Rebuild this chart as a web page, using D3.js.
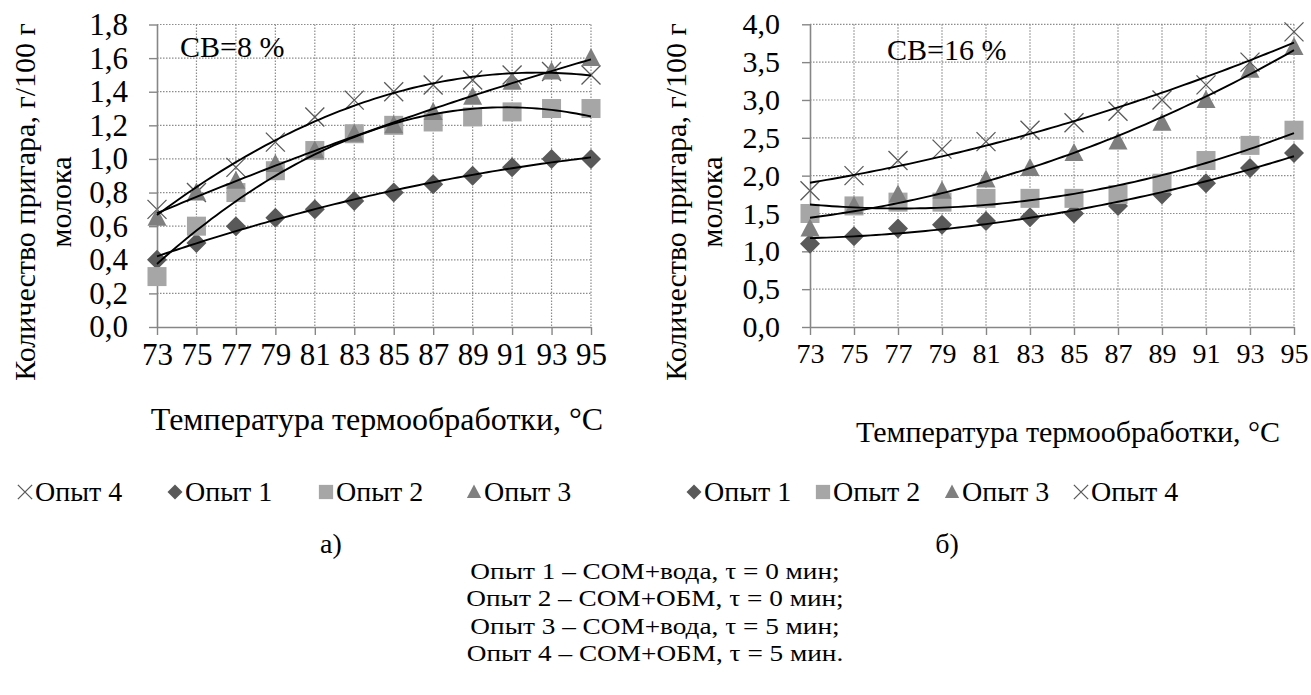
<!DOCTYPE html>
<html>
<head>
<meta charset="utf-8">
<script src="https://cdnjs.cloudflare.com/ajax/libs/d3/7.8.5/d3.min.js"></script>
<style>
  body { margin: 0; background: #fff; }
  svg { display: block; }
  svg text { font-family: "Liberation Serif", "Times New Roman", serif !important; fill: #000; }
</style>
</head>
<body>
<div id="chart"></div>
<script>
// temperatures (x categories)
const temps = [73, 75, 77, 79, 81, 83, 85, 87, 89, 91, 93, 95];
const seriesNames = ['Опыт 1', 'Опыт 2', 'Опыт 3', 'Опыт 4'];

// panel a) CB = 8 %
const a1 = [0.4, 0.5, 0.6, 0.65, 0.7, 0.75, 0.8, 0.85, 0.9, 0.95, 1.0, 1.0];
const a2 = [0.3, 0.6, 0.8, 0.93, 1.05, 1.15, 1.2, 1.22, 1.25, 1.28, 1.3, 1.3];
const a3 = [0.65, 0.8, 0.87, 0.97, 1.05, 1.15, 1.2, 1.28, 1.37, 1.46, 1.52, 1.6];
const a4 = [0.7, 0.8, 0.95, 1.1, 1.25, 1.35, 1.4, 1.44, 1.47, 1.5, 1.52, 1.5];

// panel б) CB = 16 %
const b1 = [1.1, 1.2, 1.3, 1.35, 1.4, 1.45, 1.5, 1.6, 1.75, 1.9, 2.1, 2.3];
const b2 = [1.5, 1.6, 1.65, 1.65, 1.7, 1.7, 1.7, 1.75, 1.9, 2.2, 2.4, 2.6];
const b3 = [1.3, 1.6, 1.75, 1.8, 1.95, 2.1, 2.3, 2.45, 2.7, 3.0, 3.4, 3.7];
const b4 = [1.8, 2.0, 2.2, 2.35, 2.45, 2.6, 2.7, 2.85, 3.0, 3.2, 3.5, 3.9];

const yTicksA = [0, 0.2, 0.4, 0.6, 0.8, 1.0, 1.2, 1.4, 1.6, 1.8];
const yTicksB = [0, 0.5, 1.0, 1.5, 2.0, 2.5, 3.0, 3.5, 4.0];

const notes = [
  'Опыт 1 – СОМ+вода, τ = 0 мин;',
  'Опыт 2 – СОМ+ОБМ, τ = 0 мин;',
  'Опыт 3 – СОМ+вода, τ = 5 мин;',
  'Опыт 4 – СОМ+ОБМ, τ = 5 мин.'
];

const FONT = '"Liberation Serif", "Times New Roman", serif';
const W = 1311, H = 695;
const svg = d3.select('#chart').append('svg')
  .attr('width', W).attr('height', H)
  .attr('font-family', FONT);

const comma = d => d3.format('.1f')(d).replace('.', ',');

// marker shapes, by series index
const markerColor = ['#595959', '#a6a6a6', '#7f7f7f', '#595959'];
function drawMarker(g, k, s) {
  if (k === 0) {
    g.append('path').attr('d', `M0,${-s}L${s},0L0,${s}L${-s},0Z`).attr('fill', markerColor[0]);
  } else if (k === 1) {
    const h = s * 0.95;
    g.append('rect').attr('x', -h).attr('y', -h).attr('width', 2 * h).attr('height', 2 * h).attr('fill', markerColor[1]);
  } else if (k === 2) {
    g.append('path').attr('d', `M0,${-s}L${s * 0.95},${s * 0.8}L${-s * 0.95},${s * 0.8}Z`).attr('fill', markerColor[2]);
  } else {
    const h = s * 0.95;
    g.append('path').attr('d', `M${-h},${-h}L${h},${h}M${-h},${h}L${h},${-h}`)
      .attr('stroke', markerColor[3]).attr('stroke-width', 1.3).attr('fill', 'none');
  }
}

// least squares polynomial (order 2) trend line, as Excel does
function polyFit(xs, ys) {
  const n = xs.length, xm = d3.mean(xs);
  const t = xs.map(x => x - xm);
  const S = p => d3.sum(t, v => Math.pow(v, p));
  const T = p => d3.sum(t, (v, i) => Math.pow(v, p) * ys[i]);
  const A = [[n, S(1), S(2)], [S(1), S(2), S(3)], [S(2), S(3), S(4)]];
  const B = [T(0), T(1), T(2)];
  for (let i = 0; i < 3; i++) {
    for (let j = i + 1; j < 3; j++) {
      const f = A[j][i] / A[i][i];
      for (let k = i; k < 3; k++) A[j][k] -= f * A[i][k];
      B[j] -= f * B[i];
    }
  }
  const c = [0, 0, 0];
  for (let i = 2; i >= 0; i--) {
    let s = B[i];
    for (let k = i + 1; k < 3; k++) s -= A[i][k] * c[k];
    c[i] = s / A[i][i];
  }
  return x => c[0] + c[1] * (x - xm) + c[2] * (x - xm) * (x - xm);
}

function panel(opt) {
  const x = d3.scaleLinear().domain([temps[0], temps[temps.length - 1]]).range([opt.left, opt.right]);
  const y = d3.scaleLinear().domain([0, opt.ymax]).range([opt.bottom, opt.top]);
  const g = svg.append('g');

  // grid
  g.append('g').selectAll('line').data(opt.yTicks.slice(1)).enter().append('line')
    .attr('x1', opt.left).attr('x2', opt.right)
    .attr('y1', d => y(d)).attr('y2', d => y(d))
    .attr('stroke', '#8c8c8c').attr('stroke-width', 1.2).attr('stroke-dasharray', '1.5,1.5');
  g.append('g').selectAll('line').data(temps.slice(1)).enter().append('line')
    .attr('x1', d => x(d)).attr('x2', d => x(d))
    .attr('y1', opt.top).attr('y2', opt.bottom)
    .attr('stroke', '#8c8c8c').attr('stroke-width', 1.2).attr('stroke-dasharray', '1.5,1.5');

  // axes
  const ya = g.append('g').attr('transform', `translate(${opt.left},0)`)
    .call(d3.axisLeft(y).tickValues(opt.yTicks).tickFormat(comma).tickSize(8).tickSizeOuter(0).tickPadding(opt.yPad));
  const xa = g.append('g').attr('transform', `translate(0,${opt.bottom})`)
    .call(d3.axisBottom(x).tickValues(temps).tickFormat(d3.format('d')).tickSize(8).tickSizeOuter(0).tickPadding(opt.xPad));
  ya.attr('font-family', FONT).attr('font-size', opt.yFont);
  xa.attr('font-family', FONT).attr('font-size', opt.xFont);
  [ya, xa].forEach(a => {
    a.selectAll('text').attr('fill', '#000').style('font-family', FONT);
    a.select('.domain').attr('stroke', '#868686').attr('stroke-width', 1.6);
    a.selectAll('.tick line').attr('stroke', '#868686').attr('stroke-width', 1.4);
  });

  // markers
  opt.order.forEach(k => {
    const vals = opt.series[k];
    temps.forEach((t, i) => {
      const m = g.append('g').attr('transform', `translate(${x(t)},${y(vals[i])})`);
      drawMarker(m, k, 10);
    });
  });

  // trend lines
  const line = d3.line().x(d => x(d[0])).y(d => y(d[1]));
  opt.series.forEach(vals => {
    const f = polyFit(temps, vals);
    const pts = d3.range(temps[0], temps[temps.length - 1] + 0.01, 0.25).map(t => [t, f(t)]);
    g.append('path').datum(pts).attr('d', line)
      .attr('fill', 'none').attr('stroke', '#000').attr('stroke-width', 1.9);
  });

  // СВ label
  g.append('text').attr('x', opt.cbX).attr('y', opt.cbY)
    .style('font-family', FONT).style('font-size', '30px').text(opt.cb);

  // y title (two lines)
  const yt = g.append('text').attr('transform', `translate(${opt.ytX},${opt.ytY}) rotate(-90)`)
    .attr('text-anchor', 'middle').style('font-family', FONT).style('font-size', '30px');
  yt.append('tspan').attr('x', 0).attr('y', 0).text('Количество пригара, г/100 г');
  yt.append('tspan').attr('x', 0).attr('y', 36).text('молока');

  // x title
  g.append('text').attr('x', opt.xtX).attr('y', opt.xtY).attr('text-anchor', 'middle')
    .style('font-family', FONT).style('font-size', opt.xtFont + 'px').text('Температура термообработки, °C');

  // legend
  const lg = g.append('g');
  opt.legend.forEach((k, i) => {
    const it = lg.append('g').attr('transform', `translate(${opt.legX[i]},${opt.legY})`);
    drawMarker(it.append('g').attr('transform', 'translate(8,0)'), k, 7.5);
    it.append('text').attr('x', 18).attr('y', 9)
      .style('font-family', FONT).style('font-size', '28px').text(seriesNames[k]);
  });

  svg.append('text').attr('x', opt.capX).attr('y', 553).attr('text-anchor', 'middle')
    .style('font-family', FONT).style('font-size', '28px').text(opt.cap);
}

panel({
  series: [a1, a2, a3, a4], order: [3, 0, 1, 2], legend: [3, 0, 1, 2],
  left: 157, right: 591, top: 24.5, bottom: 327, ymax: 1.8, yTicks: yTicksA,
  yPad: 21, yFont: 31, xPad: 8, xFont: 31,
  cb: 'СВ=8 %', cbX: 180, cbY: 57,
  ytX: 35, ytY: 202, xtX: 377, xtY: 430, xtFont: 32,
  legX: [17, 167, 318, 466], legY: 492, cap: 'а)', capX: 331
});

panel({
  series: [b1, b2, b3, b4], order: [0, 1, 2, 3], legend: [0, 1, 2, 3],
  left: 810, right: 1294, top: 24.3, bottom: 327, ymax: 4.0, yTicks: yTicksB,
  yPad: 22, yFont: 30, xPad: 8, xFont: 28,
  cb: 'СВ=16 %', cbX: 887, cbY: 60,
  ytX: 686, ytY: 202, xtX: 1068, xtY: 442, xtFont: 30,
  legX: [686, 815, 944, 1073], legY: 492, cap: 'б)', capX: 947
});

// explanatory notes: tight line spacing, glyphs widened a little like the source
svg.append('g').selectAll('text').data(notes).enter().append('text')
  .attr('x', 655).attr('y', (d, i) => 579 + i * 27.3)
  .attr('text-anchor', 'middle')
  .style('font-family', FONT).style('font-size', '23.5px')
  .text(d => d)
  .each(function () {
    const len = this.getComputedTextLength();
    d3.select(this).attr('textLength', len * 1.16).attr('lengthAdjust', 'spacingAndGlyphs');
  });
</script>
</body>
</html>
